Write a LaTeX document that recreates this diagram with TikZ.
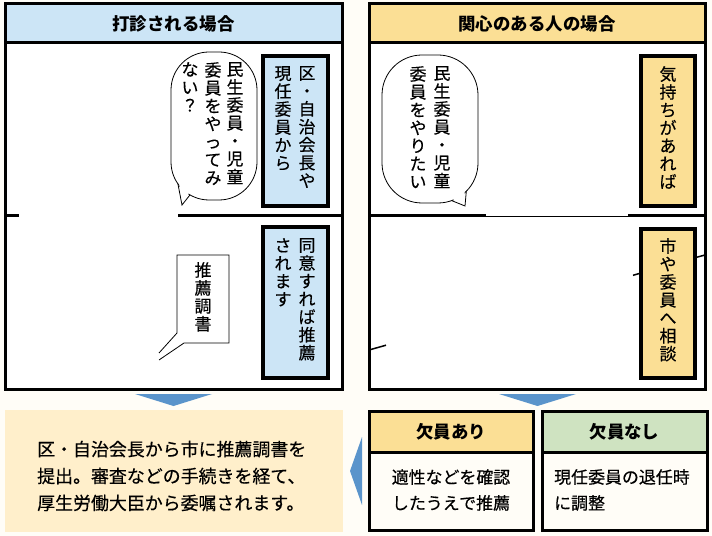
\documentclass[tikz,border=0pt]{standalone}
\usepackage{fontspec}
\setmainfont{Noto Sans CJK JP}
\newfontfamily\medfont{Noto Sans CJK JP}[FakeBold=0.4]
\usetikzlibrary{calc}
\definecolor{bg}{HTML}{FFFDF7}
\definecolor{lblue}{HTML}{CCE5F6}
\definecolor{gold}{HTML}{FBDF95}
\definecolor{cream}{HTML}{FFEFCB}
\definecolor{lgreen}{HTML}{CFE3C1}
\definecolor{arrowblue}{HTML}{5A94CB}
\tikzset{
  panelline/.style={line width=3bp, line cap=rect},
  tagbox/.style={draw, line width=3.5bp},
  vtxt/.style={font=\medfont\fontsize{17}{18}\selectfont, align=center, inner sep=0pt, anchor=north},
  htitle/.style={font=\fontsize{17.5}{20}\selectfont\bfseries, inner sep=0pt},
  body/.style={font=\medfont\fontsize{17}{26}\selectfont, inner sep=0pt},
  bubble/.style={draw, fill=white, line width=0.8bp},
  downarrow/.style={fill=arrowblue}
}
\begin{document}
\begin{tikzpicture}[x=1bp,y=-1bp]
\useasboundingbox (0,0) rectangle (712,536);
\fill[bg] (0,0) rectangle (712,536);

% ---------- left panel ----------
\fill[white] (5,43) rectangle (342,389);
\fill[lblue] (5,4) rectangle (342,43);
\draw[panelline] (5,4) rectangle (342,389);
\draw[panelline] (5,43) -- (342,43);
\draw[panelline] (5,216) -- (17,216);
\draw[panelline] (179,216) -- (342,216);
\node[htitle] (t1) at (173.5,24) {打診される場合};

\node[tagbox, fill=lblue, minimum width=65bp, minimum height=150bp, inner sep=0pt] (b1) at (295.5,131) {};
\node[vtxt] (b1a) at (307,66) {区\\・\\自\\治\\会\\長\\や};
\node[vtxt] (b1b) at (283,66) {現\\任\\委\\員\\か\\ら};

% speech bubble left
\node[bubble, rounded corners=38bp, minimum width=86bp, minimum height=148bp, inner sep=0pt] (s1) at (214,126) {};
\coordinate (s1p) at (177.9,183.8);
\coordinate (s1q) at (190,194.9);
\coordinate (s1tip) at (182,205);
\fill[white] ($(s1p)!0.12!(s1q)$) -- (s1tip) -- ($(s1q)!0.12!(s1p)$) -- (195,185) -- (182,178) -- cycle;
\draw[line width=0.8bp] (s1p) -- (s1tip) -- (s1q);
\node[vtxt] (s1a) at (235,62) {民\\生\\委\\員\\・\\児\\童};
\node[vtxt] (s1b) at (213,62) {委\\員\\を\\や\\っ\\て\\み};
\node[vtxt] (s1c) at (190,62) {な\\い\\？};

\node[tagbox, fill=lblue, minimum width=65bp, minimum height=151bp, inner sep=0pt] (b2) at (295.5,302.5) {};
\node[vtxt] (b2a) at (307,238) {同\\意\\す\\れ\\ば\\推\\薦};
\node[vtxt] (b2b) at (283,238) {さ\\れ\\ま\\す};

% rectangular callout
\draw[fill=white, line width=0.8bp] (159,353) -- (177,333) -- (177,255) -- (229,255) -- (229,343) -- (184,343) -- (159,360);
\node[vtxt] (c1) at (203,262) {推\\薦\\調\\書};

% ---------- right panel ----------
\fill[white] (369,43) rectangle (705,389);
\fill[gold] (369,4) rectangle (705,43);
\draw[panelline] (369,4) rectangle (705,389);
\draw[panelline] (369,43) -- (705,43);
\draw[panelline] (369,216) -- (484,216);
\draw[line width=0.8bp] (484,216) -- (629,216);
\draw[panelline] (629,216) -- (705,216);
\node[htitle] (t2) at (537,24) {関心のある人の場合};

\node[tagbox, fill=gold, minimum width=54bp, minimum height=150bp, inner sep=0pt] (b3) at (668,131) {};
\node[vtxt] (b3a) at (668,66) {気\\持\\ち\\が\\あ\\れ\\ば};

% speech bubble right
\node[bubble, rounded corners=40bp, minimum width=96bp, minimum height=148bp, inner sep=0pt] (s2) at (430,129) {};
\coordinate (s2p) at (466.3,191.3);
\coordinate (s2q) at (451.7,200.6);
\coordinate (s2tip) at (465,206);
\fill[white] ($(s2p)!0.12!(s2q)$) -- (s2tip) -- ($(s2q)!0.12!(s2p)$) -- (450,190) -- (462,183) -- cycle;
\draw[line width=0.8bp] (s2p) -- (s2tip) -- (s2q);
\node[vtxt] (s2a) at (442,66) {民\\生\\委\\員\\・\\児\\童};
\node[vtxt] (s2b) at (418,66) {委\\員\\を\\や\\り\\た\\い};

% partly hidden line
\coordinate (l1) at (369,350);
\coordinate (l2) at (386,345.2);
\coordinate (l3) at (633,275.3);
\coordinate (l4) at (641,273);
\coordinate (l5) at (695,257.7);
\coordinate (l6) at (705,255);
\draw[line width=1.5bp] (l1) -- (l2);
\draw[line width=1.5bp] (l3) -- (l4);
\draw[line width=1.5bp] (l5) -- (l6);

\node[tagbox, fill=gold, minimum width=54bp, minimum height=149bp, inner sep=0pt] (b4) at (668,303.5) {};
\node[vtxt] (b4a) at (668,238) {市\\や\\委\\員\\へ\\相\\談};

% ---------- arrows ----------
\path[downarrow] (135,394) -- (212,394) -- (173.5,406) -- cycle;
\path[downarrow] (499,394) -- (576,394) -- (537.5,406) -- cycle;
\path[downarrow] (362,437) -- (350,471) -- (362,505) -- cycle;

% ---------- bottom ----------
\fill[cream] (5,410) rectangle (343,532);
\node[body, font=\medfont\fontsize{18}{27}\selectfont, align=left, anchor=west] (r1) at (37,476)
  {区・自治会長から市に推薦調書を\\提出。審査などの手続きを経て、\\厚生労働大臣から委嘱されます。};

\fill[gold] (369,411) rectangle (533,452);
\draw[panelline] (369,411) rectangle (533,530);
\draw[panelline] (369,452) -- (533,452);
\node[htitle] (k1) at (451,432) {欠員あり};
\node[body, align=center] (k1t) at (451,490) {適性などを確認\\したうえで推薦};

\fill[lgreen] (542,411) rectangle (707,452);
\draw[panelline] (542,411) rectangle (707,530);
\draw[panelline] (542,452) -- (707,452);
\node[htitle] (k2) at (624.5,432) {欠員なし};
\node[body, align=left, anchor=west] (k2t) at (554,490) {現任委員の退任時\\に調整};
\end{tikzpicture}
\end{document}
